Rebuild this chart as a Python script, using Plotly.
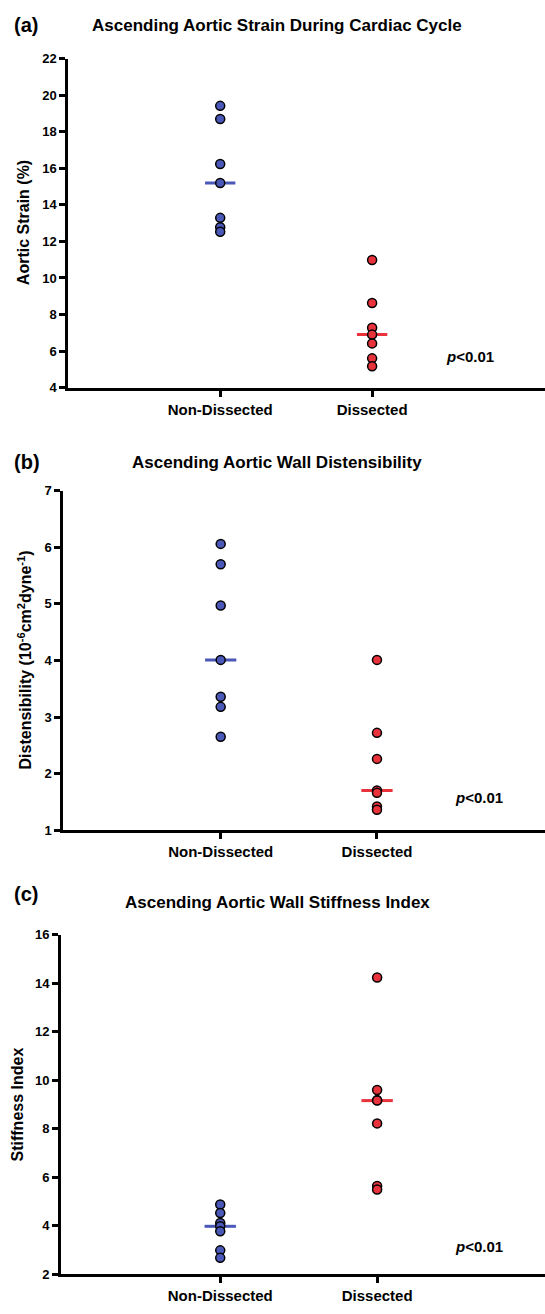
import numpy as np
import plotly.graph_objects as go

W, H = 545, 1314

categories = ["Non-Dissected", "Dissected"]

# Panel (a) Aortic strain (%)
strain_non = [19.42, 18.70, 16.24, 15.20, 13.29, 12.78, 12.53]
strain_dis = [10.98, 8.63, 7.28, 6.90, 6.42, 5.60, 5.17]

# Panel (b) Distensibility
dist_non = [6.06, 5.70, 4.97, 4.01, 3.36, 3.18, 2.65]
dist_dis = [4.01, 2.72, 2.26, 1.70, 1.66, 1.42, 1.36]

# Panel (c) Stiffness index
stiff_non = [4.88, 4.53, 4.12, 3.98, 3.78, 2.99, 2.68]
stiff_dis = [14.23, 9.60, 9.18, 9.16, 8.22, 5.64, 5.50]

titles = ["Ascending Aortic Strain During Cardiac Cycle",
          "Ascending Aortic Wall Distensibility",
          "Ascending Aortic Wall Stiffness Index"]
panel_labels = ["(a)", "(b)", "(c)"]
ytitles = ["Aortic Strain (%)",
           "Distensibility (10<sup>-6</sup>cm<sup>2</sup>dyne<sup>-1</sup>)",
           "Stiffness Index"]
yranges = [(4, 22), (1, 7), (2, 16)]
ydticks = [2, 1, 2]
pvalue_text = "<i>p</i><0.01"

BLUE = "#4a58b8"
RED = "#e8323c"
FONT = "Arial, Liberation Sans, sans-serif"

# pixel geometry of each panel: (axis x, plot top px, plot bottom px, x range)
geom = [
    (68.3, 52.3, 385.0, (0.0, 3.138)),
    (63.3, 489.3, 832.7, (-0.007, 3.075)),
    (61.0, 938.3, 1282.0, (-0.015, 3.07)),
]
title_y = [19, 460.7, 906]
label_y = [18, 460, 897]
ytitle_x = [23, 25, 17]
pval_pos = [(470, 353.3), (478.5, 800), (478.5, 1254)]

data = [(strain_non, strain_dis), (dist_non, dist_dis), (stiff_non, stiff_dis)]

fig = go.Figure()
annotations = []

for i, ((non, dis), (ax_x, top, bot, xr)) in enumerate(zip(data, geom)):
    n = i + 1
    xa = "x" if n == 1 else f"x{n}"
    ya = "y" if n == 1 else f"y{n}"
    for pos, vals, col in [(1, non, BLUE), (2, dis, RED)]:
        med = float(np.median(vals))
        fig.add_trace(go.Scatter(
            x=[pos - 0.1, pos + 0.1], y=[med, med], mode="lines",
            line=dict(color=col, width=3), xaxis=xa, yaxis=ya,
            showlegend=False, hoverinfo="skip"))
        fig.add_trace(go.Scatter(
            x=[pos] * len(vals), y=vals, mode="markers",
            marker=dict(color=col, size=9, line=dict(color="black", width=1.5)),
            xaxis=xa, yaxis=ya, showlegend=False))

    xkey = "xaxis" if n == 1 else f"xaxis{n}"
    ykey = "yaxis" if n == 1 else f"yaxis{n}"
    fig.update_layout(**{
        xkey: dict(
            domain=[ax_x / W, 1], range=list(xr), anchor=ya,
            tickmode="array", tickvals=[1, 2], ticktext=categories,
            showline=True, linewidth=3, linecolor="black",
            ticks="outside", ticklen=6, tickwidth=2.5, tickcolor="black",
            showgrid=False, zeroline=False,
            tickfont=dict(family=FONT, size=15, color="black", weight="bold"),
        ),
        ykey: dict(
            domain=[1 - bot / H, 1 - top / H], range=list(yranges[i]), anchor=xa,
            dtick=ydticks[i], tick0=yranges[i][0],
            showline=True, linewidth=3, linecolor="black",
            ticks="outside", ticklen=6, tickwidth=2.5, tickcolor="black",
            showgrid=False, zeroline=False,
            tickfont=dict(family=FONT, size=13, color="black", weight="bold"),
        ),
    })

    annotations.append(dict(
        text=titles[i], x=277.5 / W, y=1 - title_y[i] / H, xref="paper", yref="paper",
        xanchor="center", yanchor="middle", showarrow=False,
        font=dict(family=FONT, size=17, color="black", weight="bold")))
    annotations.append(dict(
        text=panel_labels[i], x=12 / W, y=1 - label_y[i] / H, xref="paper", yref="paper",
        xanchor="left", yanchor="middle", showarrow=False,
        font=dict(family=FONT, size=20, color="black", weight="bold")))
    annotations.append(dict(
        text=ytitles[i], x=ytitle_x[i] / W, y=1 - (top + bot) / 2 / H,
        xref="paper", yref="paper", textangle=-90,
        xanchor="center", yanchor="middle", showarrow=False,
        font=dict(family=FONT, size=16, color="black", weight="bold")))
    px, py = pval_pos[i]
    annotations.append(dict(
        text=pvalue_text, x=px / W, y=1 - py / H, xref="paper", yref="paper",
        xanchor="center", yanchor="middle", showarrow=False,
        font=dict(family=FONT, size=15, color="black", weight="bold")))

fig.update_layout(
    width=W, height=H,
    margin=dict(l=0, r=0, t=0, b=0),
    paper_bgcolor="white", plot_bgcolor="white",
    annotations=annotations,
    showlegend=False,
)

fig.write_html("out.html", config={"displayModeBar": False})
